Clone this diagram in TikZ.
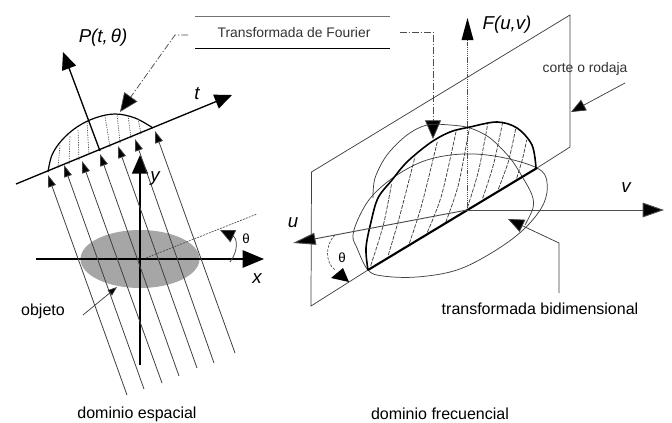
\documentclass[tikz,border=0pt]{standalone}
\usepackage{fontspec}
\setmainfont{Liberation Sans}
\usetikzlibrary{arrows.meta}
\tikzset{
  x=0.75pt,y=-0.75pt,
  thinline/.style={draw=black!75,line width=0.55pt},
  rayline/.style={draw=black!75,line width=0.6pt,-{Triangle[length=9pt,width=6pt,fill=black]}},
  axisb/.style={draw=black,line width=1.2pt,-{Triangle[length=14pt,width=12pt,fill=black]}},
  axisx/.style={draw=black,line width=1.2pt,-{Triangle[length=16pt,width=13pt,fill=black]}},
  axist/.style={draw=black,line width=1pt,-{Triangle[length=13pt,width=11pt,fill=black]}},
  axisr/.style={draw=black!70,line width=0.7pt,-{Triangle[length=16pt,width=11pt,fill=black]}},
  leader/.style={draw=black!70,line width=0.55pt,dash pattern=on 5pt off 1.5pt on 1pt off 1.5pt},
  hatchl/.style={draw=black!70,line width=0.5pt,dash pattern=on .9pt off .9pt},
  hatchr/.style={draw=black!75,line width=0.55pt,dash pattern=on 3pt off 1pt},
  bigtip/.style={-{Triangle[length=14pt,width=12pt,fill=black]}},
  txtlabel/.style={font=\fontsize{12pt}{14pt}\selectfont,inner sep=0pt},
  txtsmall/.style={font=\fontsize{10.4pt}{12pt}\selectfont,inner sep=0pt,text=black!80},
  txtmath/.style={font=\fontsize{14pt}{16pt}\selectfont\itshape,inner sep=0pt},
}
\begin{document}
\begin{tikzpicture}
\useasboundingbox (0,0) rectangle (672,422);
\fill[white] (0,0) rectangle (672,422);
% ---------- spatial domain
\fill[black!35] (140,259) ellipse [x radius=59.5,y radius=29];
\coordinate (o) at (140,259);
\coordinate (xs) at (36,259); \coordinate (xe) at (264,259);
\coordinate (ys) at (140,365); \coordinate (ye) at (140,155);
\draw[axisx] (xs) -- (xe);
\draw[axisb] (ys) -- (ye);
% rays
\foreach \a/\b/\c/\d in {127/395/48/175,144/389/64/165,162/383/82/161,179/376/100/154,197/368/118/146,214/363/135/139,235/353/155/131}
  \draw[rayline] (\a,\b) -- (\c,\d);
% t axis and P axis
\coordinate (ts) at (16,184); \coordinate (te) at (232,95);
\coordinate (ps) at (100,151); \coordinate (pe) at (63,52);
\draw[axist] (ts) -- (te);
\draw[axist] (ps) -- (pe);
% projection
\draw[line width=.9pt] plot[smooth,tension=.6] coordinates {(48,172) (52,155) (62,140) (77,127) (95,118) (115,114) (135,118) (153,128)};
\foreach \a/\b/\c/\d in {58/168/60/145,69/164/70/135,79/160/78/129,89/155/87/122,110/147/105/116,120/143/117/114,131/138/128/115,141/134/138/118}
  \draw[hatchl] (\a,\b) -- (\c,\d);
% dotted theta line
\coordinate (ds) at (146,258); \coordinate (de) at (257,214);
\draw[draw=black!70,line width=.5pt,dash pattern=on 1.5pt off .8pt] (ds) -- (de);
\draw[thinline,-{Triangle[length=11pt,width=10pt,fill=black]}] (230,262) .. controls (239,250) and (237,238) .. (220,230);
\node[txtlabel,font=\fontsize{10pt}{12pt}\selectfont] (th1) at (246,239) {θ};
\node[txtmath] (ylab) at (155,179) {y};
\node[txtmath] (xlab) at (257,279) {x};
\node[txtmath] (tlab) at (197,94) {t};
\node[txtmath] (plab) at (103,38) {P(t,\,θ)};
% objeto
\node[txtlabel] (obj) at (43,311) {objeto};
\coordinate (oa) at (83,315); \coordinate (ob) at (117,287);
\draw[thinline,-{Triangle[length=7pt,width=5pt,fill=black]}] (oa) -- (ob);
\node[txtlabel] (de1) at (137,414) {dominio espacial};
% ---------- box
\coordinate (b1) at (195,16.5); \coordinate (b2) at (390,16.5);
\coordinate (b3) at (195,48); \coordinate (b4) at (390,48);
\draw[draw=black!55,line width=.8pt] (b1) -- (b2);
\draw[line width=.6pt] (b3) -- (b4);
\node[txtsmall] (tf) at (294,33) {Transformada de Fourier};
\coordinate (l1) at (188,35); \coordinate (l2) at (175,35); \coordinate (l3) at (120,112);
\draw[leader,bigtip] (l1) -- (l2) -- (l3);
\coordinate (r1) at (400,32); \coordinate (r2) at (433,32); \coordinate (r3) at (433,139);
\draw[leader,bigtip] (r1) -- (r2) -- (r3);
% ---------- frequency domain
\coordinate (f1) at (570,15); \coordinate (f2) at (570,147); \coordinate (f3) at (537,168);
\coordinate (f4) at (368,270); \coordinate (f5) at (311,306); \coordinate (f6) at (311.5,172);
\draw[thinline] (f3) -- (f2) -- (f1) -- (f6) -- (f5) -- (f4);
\draw[draw=black!70,line width=.6pt,dash pattern=on 1pt off .6pt] (467,210) -- (467,40);
\fill (467.5,18) -- (473.5,40) -- (461.5,40) -- cycle;
\node[txtmath] (flab) at (507,25) {F(u,v)};
% thin circle
\draw[thinline] plot[smooth,tension=.55] coordinates {(373,198) (375,178) (387,155) (407,135) (427,125) (450,125) (470,128) (490,138) (510,158) (523,178) (532,195) (533,208) (525,225)};
% ellipse
\draw[thinline] plot[smooth cycle,tension=.6] coordinates {(368,270) (357,248) (353,235) (360,215) (373,195) (397,175) (427,160) (463,154) (500,157) (537,168) (547,182) (543,205) (523,230) (493,252) (457,270) (417,277) (383,276)};
% hatch
\foreach \a/\b/\c/\d/\e/\f in {62/452/100/330/125/205,115/420/150/300/195/125,178/385/215/270/262/80,232/352/275/240/318/50,287/322/325/210/358/40,352/278/385/170/413/28,398/250/430/150/458/22,445/222/475/140/497/42,500/190/518/130/530/75}
  \draw[hatchr] plot[smooth] coordinates {({350+\a/3},{115+\b/3}) ({350+\c/3},{115+\d/3}) ({350+\e/3},{115+\f/3})};
% thick curve and chord
\draw[line width=1.2pt] plot[smooth,tension=.55] coordinates {(368,270) (366,248) (371,222) (378,198) (392,180) (407,162) (430,143) (450,132) (470,127) (497,122) (517,128) (532,145) (536,168)};
\draw[line width=1.6pt] (f4) -- (f3);
% axes
\coordinate (cc) at (467,210);
\coordinate (ve) at (664,210); \coordinate (ue) at (293,243);
\draw[axisr] (cc) -- (ve);
\draw[axisr,-{Triangle[length=17pt,width=9pt,fill=black]}] (cc) -- (ue);
\node[txtmath] (vlab) at (626,188) {v};
\node[txtmath] (ulab) at (293,223) {u};
% theta
\draw[draw=black!70,line width=.5pt,dash pattern=on 2pt off 1pt] (335,235) .. controls (325,245) and (325,262) .. (335,270);
\fill (343,268) -- (331,278) -- (349,282) -- cycle;
\node[txtlabel,font=\fontsize{10pt}{12pt}\selectfont] (th2) at (342,258) {θ};
% corte
\node[txtsmall] (cr) at (585,69) {corte o rodaja};
\coordinate (c1) at (625,83); \coordinate (c2) at (571,112);
\draw[thinline,-{Triangle[length=11pt,width=9pt,fill=black]}] (c1) -- (c2);
% bidimensional
\coordinate (t1) at (559,293); \coordinate (t2) at (559,243); \coordinate (t3) at (508,219);
\draw[thinline,-{Triangle[length=12pt,width=10pt,fill=black]}] (t1) -- (t2) -- (t3);
\node[txtlabel] (tb) at (540,309) {transformada bidimensional};
\node[txtlabel] (df) at (440,414) {dominio frecuencial};
\end{tikzpicture}
\end{document}
